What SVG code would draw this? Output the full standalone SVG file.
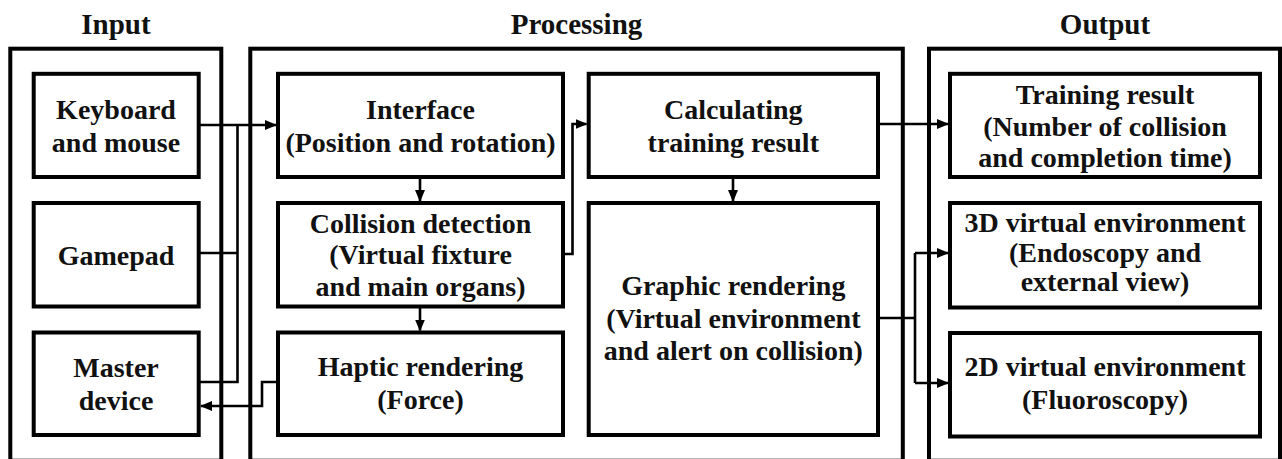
<svg xmlns="http://www.w3.org/2000/svg" width="1282" height="459" viewBox="0 0 1282 459" font-family="'Liberation Serif', 'DejaVu Serif', serif">
<style>
  .outer { fill: none; stroke: #000; stroke-width: 4; }
  .box { fill: #fff; stroke: #000; stroke-width: 4; }
  .conn { fill: none; stroke: #000; stroke-width: 2.6; }
  text { font-family: 'Liberation Serif', 'DejaVu Serif', serif; font-weight: bold; font-size: 28px; fill: #111; text-anchor: middle; }
  .title { font-size: 29px; }
</style>
<defs>
  <marker id="arrow" markerUnits="userSpaceOnUse" markerWidth="12" markerHeight="10" refX="11" refY="5" orient="auto">
    <path d="M0,0 L12,5 L0,10 z" fill="#000"/>
  </marker>
</defs>
<rect width="1282" height="459" fill="#fff"/>

<g id="input-group">
  <rect class="outer" x="10.3" y="48.7" width="211" height="412"/>
  <text class="title" x="116" y="34">Input</text>
</g>
<g id="processing-group">
  <rect class="outer" x="250.3" y="48.7" width="652.5" height="412"/>
  <text class="title" x="576.5" y="34">Processing</text>
</g>
<g id="output-group">
  <rect class="outer" x="929" y="48.7" width="351" height="412"/>
  <text class="title" x="1105" y="34">Output</text>
</g>

<g id="connectors">
  <path class="conn" d="M199 125 H276" marker-end="url(#arrow)"/>
  <path class="conn" d="M199 253 H237.5"/>
  <path class="conn" d="M199 382 H237.5 V125"/>
  <path class="conn" d="M278 382 H262 V406 H201" marker-end="url(#arrow)"/>
  <path class="conn" d="M420 177 V201" marker-end="url(#arrow)"/>
  <path class="conn" d="M420 306.5 V330.5" marker-end="url(#arrow)"/>
  <path class="conn" d="M563 254 H572.5 V124 H586.5" marker-end="url(#arrow)"/>
  <path class="conn" d="M733 177 V201" marker-end="url(#arrow)"/>
  <path class="conn" d="M878 124 H948" marker-end="url(#arrow)"/>
  <path class="conn" d="M878 318 H915"/>
  <path class="conn" d="M915 253 V383"/>
  <path class="conn" d="M915 253 H948" marker-end="url(#arrow)"/>
  <path class="conn" d="M915 383 H948" marker-end="url(#arrow)"/>
</g>

<g id="keyboard">
  <rect class="box" x="33.7" y="73.8" width="165" height="103.2"/>
  <text x="116" y="118.5">Keyboard</text>
  <text x="116" y="151.5">and mouse</text>
</g>
<g id="gamepad">
  <rect class="box" x="33.7" y="203" width="165" height="103.5"/>
  <text x="116" y="264.5">Gamepad</text>
</g>
<g id="master">
  <rect class="box" x="33.7" y="332.5" width="165" height="102.5"/>
  <text x="116" y="376.5">Master</text>
  <text x="116" y="409.5">device</text>
</g>

<g id="interface">
  <rect class="box" x="278" y="73.8" width="285" height="103.2"/>
  <text x="420.5" y="119">Interface</text>
  <text x="420.5" y="152">(Position and rotation)</text>
</g>
<g id="collision">
  <rect class="box" x="278" y="203" width="285" height="103.5"/>
  <text x="420.5" y="232.5">Collision detection</text>
  <text x="420.5" y="264">(Virtual fixture</text>
  <text x="420.5" y="295.5">and main organs)</text>
</g>
<g id="haptic">
  <rect class="box" x="278" y="332.5" width="285" height="102.5"/>
  <text x="420.5" y="376">Haptic rendering</text>
  <text x="420.5" y="409">(Force)</text>
</g>
<g id="calc">
  <rect class="box" x="588.7" y="73.8" width="289.3" height="103.2"/>
  <text x="733.3" y="119">Calculating</text>
  <text x="733.3" y="152">training result</text>
</g>
<g id="graphic">
  <rect class="box" x="588.7" y="203" width="289.3" height="232"/>
  <text x="733.3" y="295">Graphic rendering</text>
  <text x="733.3" y="327.5">(Virtual environment</text>
  <text x="733.3" y="360">and alert on collision)</text>
</g>

<g id="training">
  <rect class="box" x="950" y="73.8" width="310" height="103.2"/>
  <text x="1105" y="104">Training result</text>
  <text x="1105" y="136">(Number of collision</text>
  <text x="1105" y="167">and completion time)</text>
</g>
<g id="env3d">
  <rect class="box" x="950" y="203" width="310" height="104.5"/>
  <text x="1105" y="232">3D virtual environment</text>
  <text x="1105" y="262">(Endoscopy and</text>
  <text x="1105" y="291">external view)</text>
</g>
<g id="env2d">
  <rect class="box" x="950" y="333" width="310" height="103.5"/>
  <text x="1105" y="376">2D virtual environment</text>
  <text x="1105" y="409">(Fluoroscopy)</text>
</g>
</svg>
